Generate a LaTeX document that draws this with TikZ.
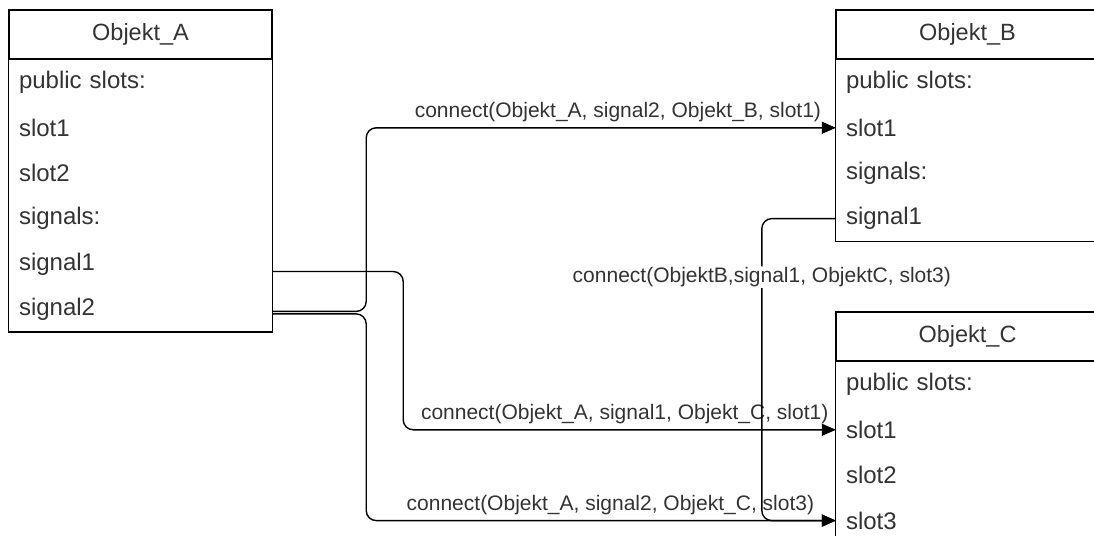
\documentclass[tikz,border=0pt]{standalone}
\usepackage{fontspec}
\setmainfont{Liberation Sans}
\usepackage{tikz}
\usetikzlibrary{positioning}
\usetikzlibrary{arrows.meta}
\tikzstyle{classhead}=[draw,line width=1.4pt,minimum width=263pt,minimum height=49pt,inner sep=0pt,text=black!80,font=\fontsize{23.5}{27}\selectfont]
\tikzstyle{classrow}=[minimum height=45pt,text width=243pt,inner xsep=10pt,inner ysep=0pt,align=left,text=black!80,font=\fontsize{24}{27}\selectfont]
\tikzstyle{classbox}=[draw,line width=1.4pt]
\tikzstyle{connect}=[draw,line width=1.4pt,rounded corners=10pt,-{Triangle[length=14pt,width=12pt]}]
\tikzstyle{conntext}=[font=\fontsize{21}{25}\selectfont,text=black!80,inner sep=1pt]

\begin{document}
\begin{tikzpicture}[x=1pt,y=-1pt]
    \useasboundingbox (0,0) rectangle (1094,535);

    % the three objects, header first and then the rows below it
    \node[classhead] (A) at (140.5,34.5) {Objekt\_A};
    \node[classhead] (B) at (967.5,34.5) {Objekt\_B};
    \node[classhead] (C) at (967.5,336.5) {Objekt\_C};

    \foreach \above/\name/\text in {A/A1/public slots:, A1/A2/slot1, A2/A3/slot2, A3/A4/signals:, A4/A5/signal1, A5/A6/signal2,
                                    B/B1/public slots:, B1/B2/slot1, B2/B3/signals:, B3/B4/signal1,
                                    C/C1/public slots:, C1/C2/slot1, C2/C3/slot2, C3/C4/slot3}
        \node[classrow, below=0pt of \above] (\name) {\text};

    \draw[classbox] (A.north west) rectangle (A6.south east);
    \draw[classbox] (B.north west) rectangle (B4.south east);
    \draw[classbox] (C.north west) rectangle (C4.south east);

    % connections from Objekt_A
    \draw[connect] ([yshift=-2pt]A6.east) -- ++(94,0) |- node[conntext, above=4pt, pos=0.768] {connect(Objekt\_A, signal2, Objekt\_B, slot1)} (B2.west);
    \draw[connect] ([yshift=-7.5pt]A5.east) -- ++(131,0) |- node[conntext, above=4pt, pos=0.756] {connect(Objekt\_A, signal1, Objekt\_C, slot1)} (C2.west);
    \draw[connect] ([yshift=-4.5pt]A6.east) -- ++(94,0) |- node[conntext, above=4pt, pos=0.76] {connect(Objekt\_A, signal2, Objekt\_C, slot3)} (C4.west);

    % connection from Objekt_B
    \draw[connect] (B4.west) -- ++(-74,0) |- node[conntext, fill=white, pos=0.097] {connect(ObjektB,signal1, ObjektC, slot3)} (C4.west);

\end{tikzpicture}
\end{document}
